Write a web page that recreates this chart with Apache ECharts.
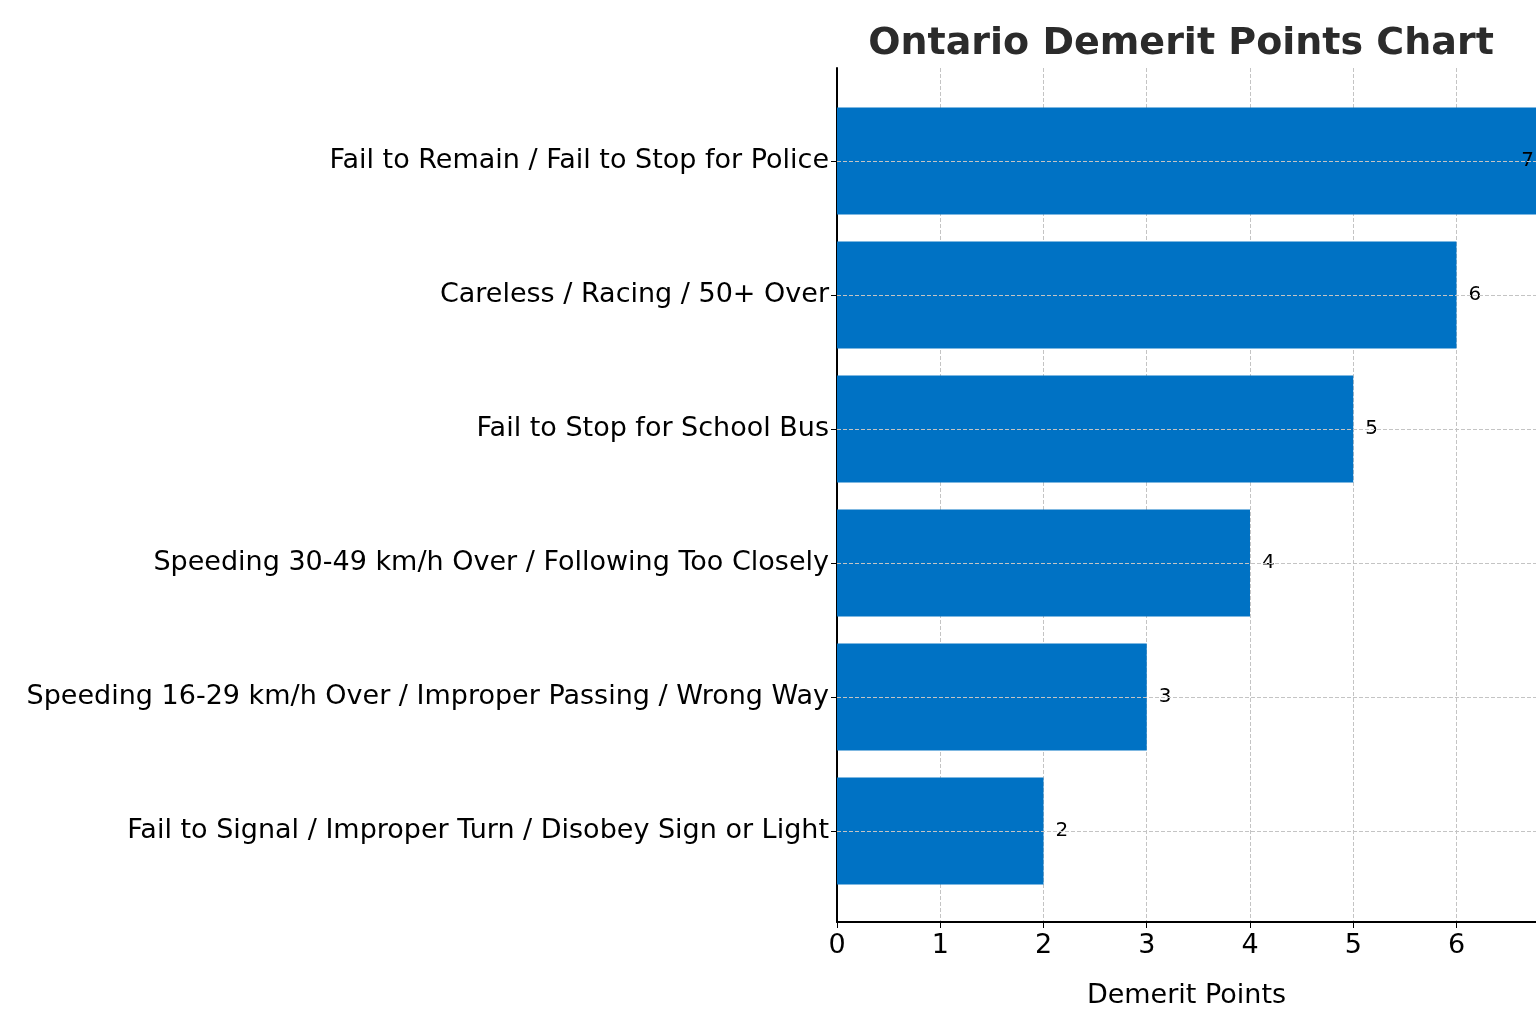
<!DOCTYPE html>
<html lang="en">
<head>
<meta charset="UTF-8">
<title>Ontario Demerit Points Chart</title>
<style>
  * { margin: 0; padding: 0; }
  #chart { width: 1536px; height: 1024px; background: #fff; }
</style>
<script src="https://cdn.jsdelivr.net/npm/echarts@6/dist/echarts.min.js"></script>
</head>
<body>
<div id="chart"></div>
<script>
// bottom to top
var offences = [
  'Fail to Signal / Improper Turn / Disobey Sign or Light',
  'Speeding 16-29 km/h Over / Improper Passing / Wrong Way',
  'Speeding 30-49 km/h Over / Following Too Closely',
  'Fail to Stop for School Bus',
  'Careless / Racing / 50+ Over',
  'Fail to Remain / Fail to Stop for Police'
];
var points = [2, 3, 4, 5, 6, 7];

var font = 'DejaVu Sans';
var xMax = 6.77;

var chart = echarts.init(document.getElementById('chart'));
chart.setOption({
  animation: false,
  title: {
    text: 'Ontario Demerit Points Chart',
    left: 1176, top: 20, textAlign: 'center',
    textStyle: { fontFamily: font, fontSize: 38, fontWeight: 'bold', color: '#2b2b2b' }
  },
  grid: [
    // outer frame: axis lines, x ticks, vertical grid
    { left: 837, right: 0, top: 68, bottom: 102 },
    // inner area holding the bars
    { left: 837, right: 0, top: 94, bottom: 126 }
  ],
  xAxis: [{
    gridIndex: 0, type: 'value', min: 0, max: xMax, interval: 1,
    name: 'Demerit Points', nameLocation: 'middle', nameGap: 60,
    nameTextStyle: { fontFamily: font, fontSize: 27, color: '#000' },
    axisLine: { show: true, lineStyle: { color: '#000', width: 2 } },
    axisTick: { show: true, length: 6, lineStyle: { color: '#000' } },
    axisLabel: { fontFamily: font, fontSize: 27, color: '#000', margin: 10,
      showMaxLabel: false },
    splitLine: { show: true, lineStyle: { type: 'dashed', color: '#c4c4c4' } }
  }, {
    gridIndex: 1, type: 'value', min: 0, max: xMax, show: false
  }],
  yAxis: [{
    gridIndex: 0, type: 'value', min: 0, max: 1,
    axisLine: { show: true, lineStyle: { color: '#000', width: 2 } },
    axisTick: { show: false }, axisLabel: { show: false }, splitLine: { show: false }
  }, {
    gridIndex: 1, type: 'category', data: offences,
    axisLine: { show: false },
    axisTick: { show: true, alignWithLabel: true, length: 6, lineStyle: { color: '#000' } },
    axisLabel: { fontFamily: font, fontSize: 27, color: '#000', margin: 8 },
    splitLine: { show: false }
  }],
  series: [{
    type: 'bar', xAxisIndex: 1, yAxisIndex: 1,
    barWidth: 107,
    itemStyle: { color: '#0072C4' },
    data: points.map(function (p, i) {
      if (i === points.length - 1) {
        return { value: p, label: { position: 'insideRight', distance: 2 } };
      }
      return p;
    }),
    label: {
      show: true, position: 'right', distance: 12,
      fontFamily: font, fontSize: 20, color: '#000'
    },
    markLine: {
      silent: true, symbol: 'none', label: { show: false },
      lineStyle: { type: 'dashed', color: '#c4c4c4', width: 1 },
      data: offences.map(function (c) { return { yAxis: c }; })
    }
  }]
});
</script>
</body>
</html>
